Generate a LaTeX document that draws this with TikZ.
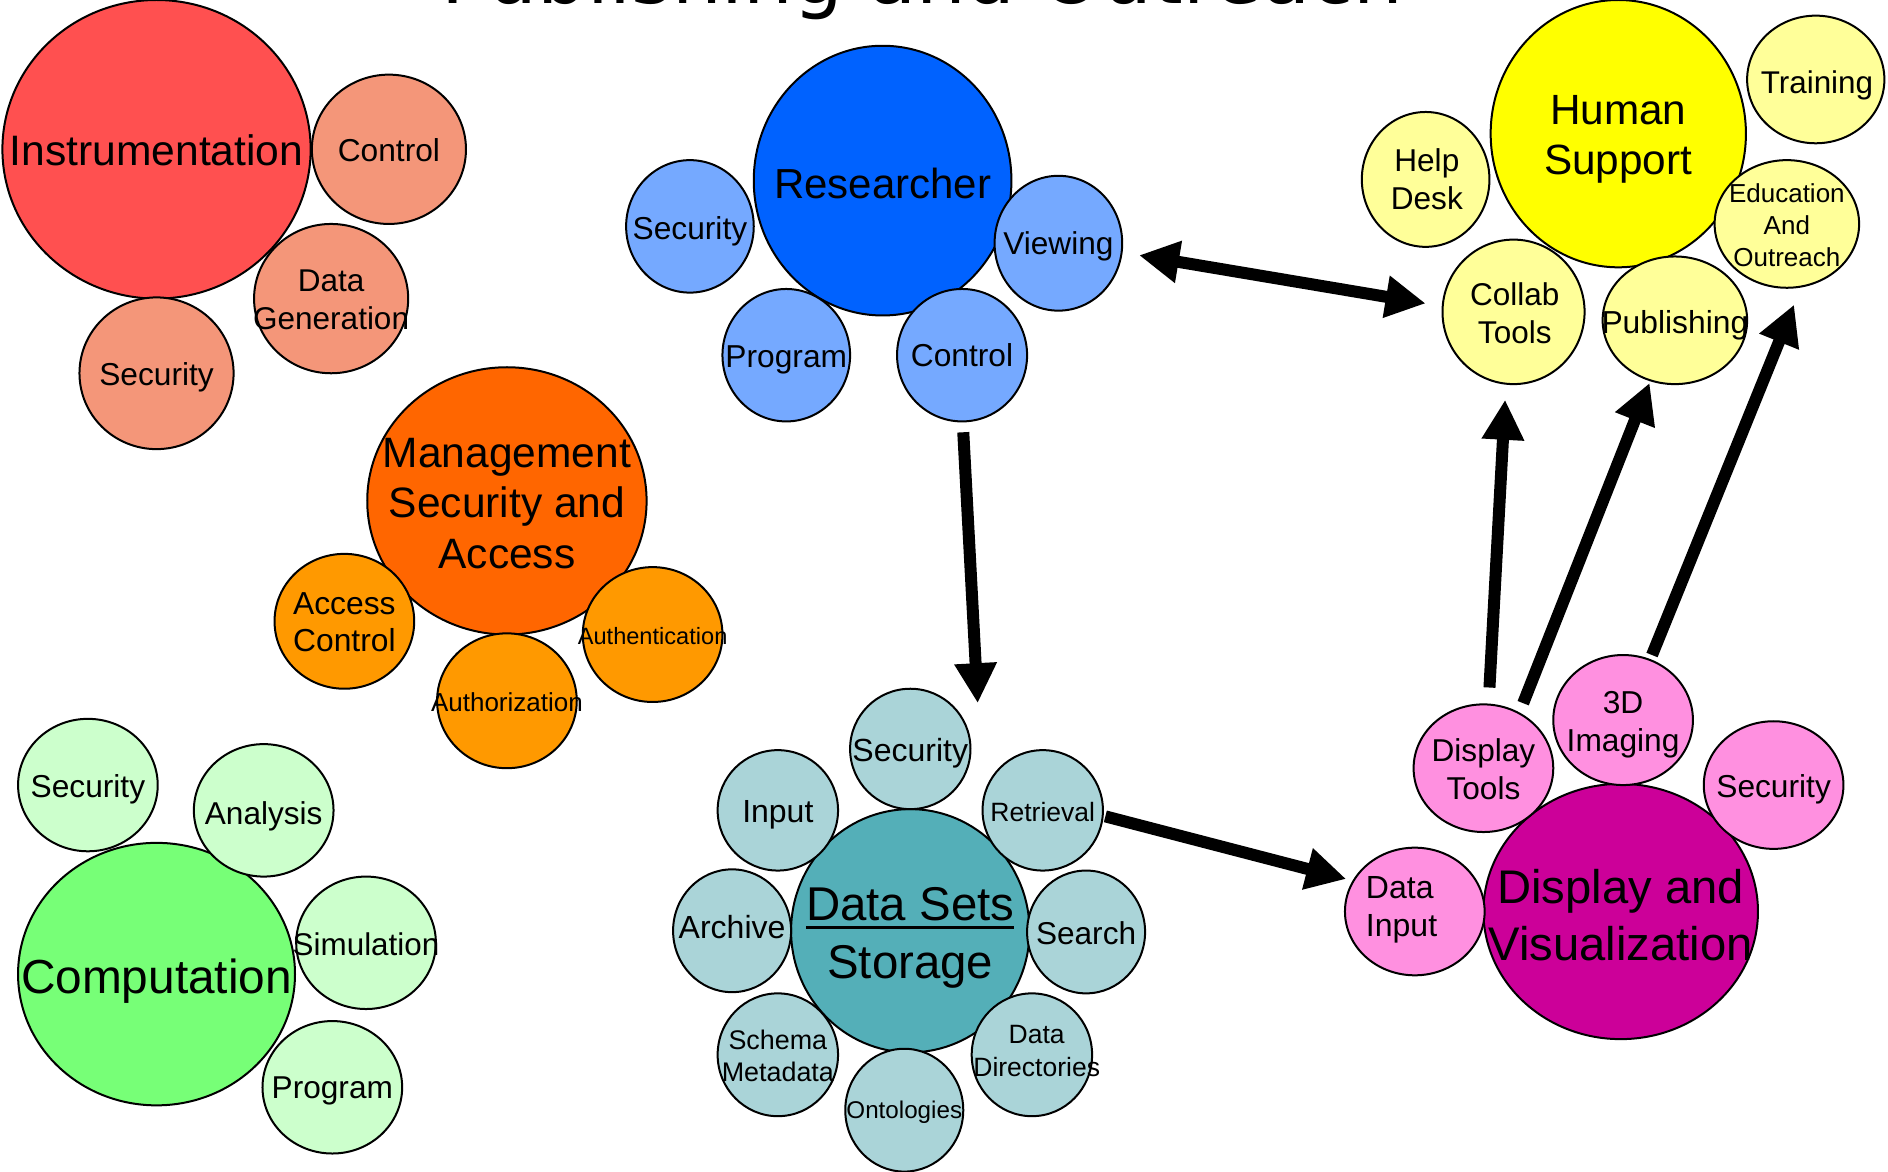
\documentclass[tikz,border=0pt]{standalone}
\usepackage{fontspec}
\setmainfont{Liberation Sans}
\newfontfamily\titlefont{DejaVu Sans}
\usetikzlibrary{shapes.geometric,arrows.meta}
\definecolor{cInstr}{HTML}{FF5050}
\definecolor{cInstrL}{HTML}{F49679}
\definecolor{cRes}{HTML}{0062FF}
\definecolor{cResL}{HTML}{75A9FF}
\definecolor{cHum}{HTML}{FFFF00}
\definecolor{cHumL}{HTML}{FFFF99}
\definecolor{cMan}{HTML}{FF6600}
\definecolor{cManL}{HTML}{FF9900}
\definecolor{cComp}{HTML}{77FF77}
\definecolor{cCompL}{HTML}{CCFFCC}
\definecolor{cData}{HTML}{54AFB8}
\definecolor{cDataL}{HTML}{AAD4D8}
\definecolor{cDisp}{HTML}{CC0099}
\definecolor{cDispL}{HTML}{FF90E0}
\newcommand\ulin[1]{\setbox0\hbox{#1}\rlap{\rule[-0.18em]{\wd0}{0.065em}}\box0}
\newcommand\fs[2]{\fontsize{#1}{#2}\selectfont}
\begin{document}
\begin{tikzpicture}[x=1.2041pt,y=-1.2041pt,
  bub/.style 2 args={ellipse,draw=black,line width=2pt,inner sep=0pt,
    minimum width={#1*2.4082pt},minimum height={#2*2.4082pt}},
  lbl/.style={align=center,inner sep=0pt,text=black},
  dsc/.style={yshift=-#1},
  arr/.style={line width=12pt,-{Triangle[length=40pt,width=40pt]}},
  darr/.style={line width=12pt,{Triangle[length=40pt,width=40pt]}-{Triangle[length=40pt,width=40pt]}}]
\fill[white] (0,0) rectangle (1568,973);
\useasboundingbox (0,0) rectangle (1568,973);

% title (mostly cut off at top)
\node[font=\titlefont\fs{78.5}{92},anchor=base,inner sep=0pt] (title) at (766,3.3) {Publishing and Outreach};

% ---------------- Instrumentation
\node[bub={128}{124},fill=cInstr] (ins) at (130,124) {};
\node[bub={64}{62},fill=cInstrL] (insC) at (323,124) {};
\node[bub={64}{62},fill=cInstrL] (insD) at (275,248) {};
\node[bub={64}{63},fill=cInstrL] (insS) at (130,310) {};
\node[lbl,font=\fs{42.6}{51}] (insT) at (130,125) {Instrumentation};
\node[lbl,font=\fs{31.7}{38.5}] (insCT) at (323,125) {Control};
\node[lbl,font=\fs{31.5}{38.5}] (insDT) at (275,249) {Data\\Generation};
\node[lbl,font=\fs{31.7}{38.5},dsc=3.3pt] (insST) at (130,311) {Security};

% ---------------- Researcher
\node[bub={107}{112},fill=cRes] (res) at (733,150) {};
\node[bub={53}{55},fill=cResL] (resS) at (573,188) {};
\node[bub={53}{56},fill=cResL] (resV) at (879,202) {};
\node[bub={53}{55},fill=cResL] (resP) at (653,295) {};
\node[bub={54}{55},fill=cResL] (resC) at (799,295) {};
\node[lbl,font=\fs{42}{51}] (resT) at (733,152) {Researcher};
\node[lbl,font=\fs{31.7}{38.5},dsc=3.3pt] (resST) at (573,189) {Security};
\node[lbl,font=\fs{31.6}{38.5},dsc=3.3pt] (resVT) at (879,202) {Viewing};
\node[lbl,font=\fs{31.7}{38.5},dsc=3.3pt] (resPT) at (653,296) {Program};
\node[lbl,font=\fs{31.7}{38.5}] (resCT) at (799,295) {Control};

% ---------------- Human Support
\node[bub={106}{111},fill=cHum] (hum) at (1344,111) {};
\node[bub={53}{56},fill=cHumL] (humH) at (1184,149) {};
\node[bub={57}{53},fill=cHumL] (humT) at (1508,66) {};
\node[bub={60}{53},fill=cHumL] (humE) at (1484,186) {};
\node[bub={59}{60},fill=cHumL] (humC) at (1257,259) {};
\node[bub={60}{53},fill=cHumL] (humP) at (1391,266) {};
\node[lbl,font=\fs{42.3}{50.6},dsc=4.4pt] (humTT) at (1344,112) {Human\\Support};
\node[lbl,font=\fs{31.6}{38.5}] (humHT) at (1185,149) {Help\\Desk};
\node[lbl,font=\fs{31.4}{38.5},dsc=3.3pt] (humTrT) at (1509,68) {Training};
\node[lbl,font=\fs{26}{32}] (humET) at (1484,187) {Education\\And\\Outreach};
\node[lbl,font=\fs{31.5}{38.5}] (humCT) at (1258,260) {Collab\\Tools};
\node[lbl,font=\fs{31.8}{38.5},dsc=3.3pt] (humPT) at (1391,267) {Publishing};

% ---------------- Management
\node[bub={116}{111},fill=cMan] (man) at (421,416) {};
\node[bub={58}{56},fill=cManL] (manA) at (286,516) {};
\node[bub={58}{56},fill=cManL] (manN) at (542,527) {};
\node[bub={58}{56},fill=cManL] (manZ) at (421,582) {};
\node[lbl,font=\fs{42.5}{50.6}] (manT) at (421,418) {Management\\Security and\\Access};
\node[lbl,font=\fs{31.8}{37.3}] (manAT) at (286,517) {Access\\Control};
\node[lbl,font=\fs{23.6}{30}] (manNT) at (542,528) {Authentication};
\node[lbl,font=\fs{26}{32}] (manZT) at (421,583) {Authorization};

% ---------------- Computation
\node[bub={115}{109},fill=cComp] (com) at (130,809) {};
\node[bub={58}{55},fill=cCompL] (comS) at (73,652) {};
\node[bub={58}{55},fill=cCompL] (comA) at (219,673) {};
\node[bub={58}{55},fill=cCompL] (comM) at (304,783) {};
\node[bub={58}{55},fill=cCompL] (comP) at (276,903) {};
\node[lbl,font=\fs{47.8}{57},dsc=5pt] (comT) at (130,811) {Computation};
\node[lbl,font=\fs{31.7}{38.5},dsc=3.3pt] (comST) at (73,653) {Security};
\node[lbl,font=\fs{31.6}{38.5},dsc=3.3pt] (comAT) at (219,675) {Analysis};
\node[lbl,font=\fs{31.4}{38.5}] (comMT) at (304,784) {Simulation};
\node[lbl,font=\fs{31.6}{38.5},dsc=3.3pt] (comPT) at (276,903) {Program};

% ---------------- Data Sets Storage
\node[bub={99}{101},fill=cData] (dat) at (756,773) {};
\node[bub={50}{50},fill=cDataL] (datS) at (756,622) {};
\node[bub={50}{50},fill=cDataL] (datI) at (646,673) {};
\node[bub={50}{50},fill=cDataL] (datR) at (866,673) {};
\node[bub={49}{51},fill=cDataL] (datA) at (608,773) {};
\node[bub={49}{51},fill=cDataL] (datQ) at (902,774) {};
\node[bub={50}{51},fill=cDataL] (datM) at (646,876) {};
\node[bub={50}{51},fill=cDataL] (datD) at (857,876) {};
\node[bub={49}{51},fill=cDataL] (datO) at (751,922) {};
\node[lbl,font=\fs{47.4}{57.8},dsc=5pt] (datT) at (756,775) {\ulin{Data Sets}\\Storage};
\node[lbl,font=\fs{32}{38.5},dsc=3.3pt] (datST) at (756,623) {Security};
\node[lbl,font=\fs{32}{38.5},dsc=3.3pt] (datIT) at (646,674) {Input};
\node[lbl,font=\fs{26.5}{32}] (datRT) at (866,674) {Retrieval};
\node[lbl,font=\fs{32}{38.5}] (datAT) at (608,770) {Archive};
\node[lbl,font=\fs{31.6}{38.5}] (datQT) at (902,775) {Search};
\node[lbl,font=\fs{26.9}{31.3}] (datMT) at (646,877) {Schema\\Metadata};
\node[lbl,font=\fs{26.5}{32.5}] (datDT) at (861,873) {Data\\Directories};
\node[lbl,font=\fs{24.2}{30},dsc=2.5pt] (datOT) at (751,922) {Ontologies};

% ---------------- Display and Visualization
\node[bub={114}{106},fill=cDisp] (dis) at (1346,757) {};
\node[bub={58}{53},fill=cDispL] (disT) at (1232,638) {};
\node[bub={58}{54},fill=cDispL] (dis3) at (1348,598) {};
\node[bub={58}{53},fill=cDispL] (disS) at (1473,652) {};
\node[bub={58}{53},fill=cDispL] (disI) at (1175,757) {};
\node[lbl,font=\fs{47.2}{56.6}] (disTT) at (1346,760) {Display and\\Visualization};
\node[lbl,font=\fs{31.6}{38.5}] (disToT) at (1232,639) {Display\\Tools};
\node[lbl,font=\fs{31.7}{38.5},dsc=3.3pt] (dis3T) at (1348,599) {3D\\Imaging};
\node[lbl,font=\fs{31.7}{38.5},dsc=3.3pt] (disST) at (1473,653) {Security};
\node[lbl,font=\fs{32}{38.5},align=left,dsc=3.3pt] (disIT) at (1164,753) {Data\\Input};

% ---------------- Connectors
\coordinate (a1s) at (946,212);
\coordinate (a1e) at (1184,252);
\coordinate (a2s) at (800,359);
\coordinate (a2e) at (812,584);
\coordinate (a3s) at (918,678);
\coordinate (a3e) at (1118,730);
\coordinate (a4s) at (1237,571);
\coordinate (a4e) at (1250,332);
\coordinate (a5s) at (1265,584);
\coordinate (a5e) at (1370,318);
\coordinate (a6s) at (1372,544);
\coordinate (a6e) at (1490,253);
\draw[darr] (a1s) -- (a1e);
\draw[arr] (a2s) -- (a2e);
\draw[arr] (a3s) -- (a3e);
\draw[arr] (a4s) -- (a4e);
\draw[arr] (a5s) -- (a5e);
\draw[arr] (a6s) -- (a6e);
\end{tikzpicture}
\end{document}
